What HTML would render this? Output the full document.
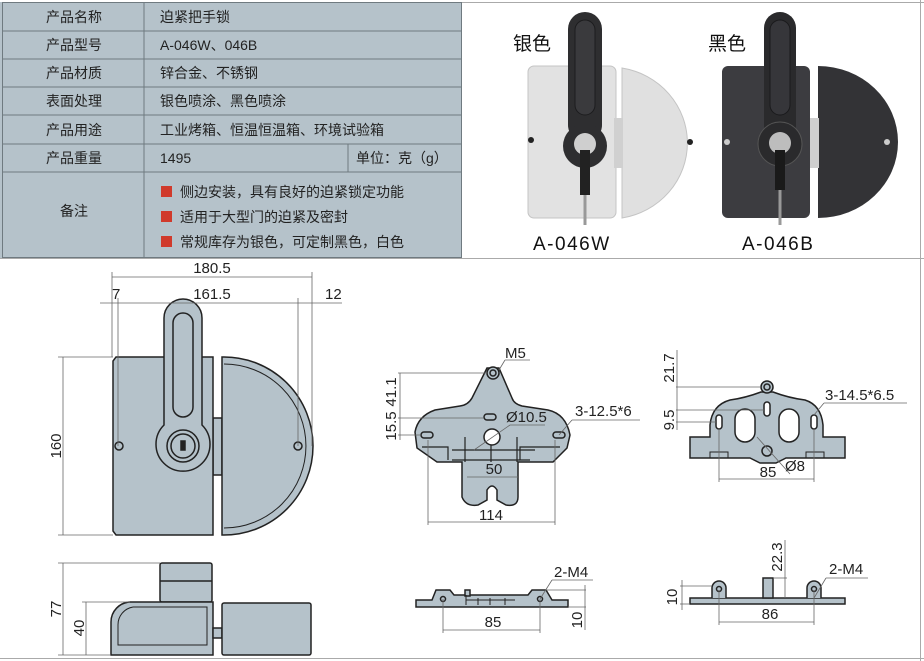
<!DOCTYPE html>
<html><head><meta charset="utf-8"><style>
body{margin:0;background:#fff;width:924px;height:661px;overflow:hidden;font-family:"Liberation Sans","Noto Sans CJK SC",sans-serif}
svg{position:absolute;left:0;top:0}
</style></head><body>
<svg width="924" height="661" viewBox="0 0 924 661" font-family="'Liberation Sans','Noto Sans CJK SC',sans-serif">
<rect x="0" y="2" width="462" height="256" fill="#b5c2ca"/>
<g stroke="#6f7a80" stroke-width="1" fill="none">
<rect x="2.5" y="2.5" width="459" height="255"/>
<line x1="2" y1="31" x2="462" y2="31"/><line x1="2" y1="59" x2="462" y2="59"/>
<line x1="2" y1="87" x2="462" y2="87"/><line x1="2" y1="115" x2="462" y2="115"/>
<line x1="2" y1="144" x2="462" y2="144"/><line x1="2" y1="172" x2="462" y2="172"/>
<line x1="144" y1="2" x2="144" y2="258"/><line x1="348" y1="144" x2="348" y2="172"/>
</g>
<g font-size="14" fill="#222">
<text x="74" y="22" text-anchor="middle">产品名称</text>
<text x="74" y="50" text-anchor="middle">产品型号</text>
<text x="74" y="78" text-anchor="middle">产品材质</text>
<text x="74" y="106" text-anchor="middle">表面处理</text>
<text x="74" y="135" text-anchor="middle">产品用途</text>
<text x="74" y="163" text-anchor="middle">产品重量</text>
<text x="74" y="216" text-anchor="middle">备注</text>
<text x="160" y="22">迫紧把手锁</text>
<text x="160" y="50">A-046W、046B</text>
<text x="160" y="78">锌合金、不锈钢</text>
<text x="160" y="106">银色喷涂、黑色喷涂</text>
<text x="160" y="135">工业烤箱、恒温恒温箱、环境试验箱</text>
<text x="160" y="163">1495</text>
<text x="356" y="163">单位：克（g）</text>
<text x="180" y="197">侧边安装，具有良好的迫紧锁定功能</text>
<text x="180" y="222">适用于大型门的迫紧及密封</text>
<text x="180" y="247">常规库存为银色，可定制黑色，白色</text>
</g>
<g fill="#d03a2c"><rect x="161" y="186" width="11" height="11"/><rect x="161" y="211" width="11" height="11"/><rect x="161" y="236" width="11" height="11"/></g>
<g stroke="#aaa" fill="none"><line x1="0" y1="258.5" x2="924" y2="258.5"/><line x1="920.5" y1="0" x2="920.5" y2="661"/><line x1="0" y1="658.5" x2="924" y2="658.5"/><line x1="462" y1="2.5" x2="924" y2="2.5"/></g>
<g>
<text x="513" y="50" font-size="19" fill="#111">银色</text>
<text x="708" y="50" font-size="19" fill="#111">黑色</text>
<text x="533" y="250" font-size="19" fill="#111" letter-spacing="1.5">A-046W</text>
<text x="742" y="250" font-size="19" fill="#111" letter-spacing="1.5">A-046B</text>
<rect x="528" y="66" width="88" height="152" rx="6" fill="#e2e2e2" stroke="#c4c4c4"/>
<path d="M622 68 A78 76 0 0 1 622 218 Z" fill="#e0e0e0" stroke="#c4c4c4"/>
<rect x="614" y="118" width="9" height="50" fill="#d0d0d0"/>
<rect x="568" y="12" width="34" height="130" rx="17" fill="#2e2e30"/>
<rect x="575" y="20" width="20" height="95" rx="10" fill="#3a3a3d" stroke="#1c1c1e"/>
<circle cx="585" cy="146" r="22" fill="#2e2e30"/>
<circle cx="585" cy="144" r="11" fill="#cfcfcf"/>
<rect x="580" y="150" width="10" height="45" fill="#222"/>
<line x1="585" y1="195" x2="585" y2="225" stroke="#999" stroke-width="3"/>
<circle cx="531" cy="140" r="3" fill="#222"/><circle cx="690" cy="142" r="3" fill="#222"/>
<rect x="722" y="66" width="88" height="152" rx="6" fill="#3c3c40"/>
<path d="M818 66 A80 76 0 0 1 818 218 Z" fill="#333336"/>
<rect x="810" y="118" width="9" height="50" fill="#cfcfcf"/>
<rect x="764" y="12" width="32" height="130" rx="16" fill="#2a2a2c"/>
<rect x="770" y="20" width="20" height="95" rx="10" fill="#36363a" stroke="#1a1a1c"/>
<circle cx="780" cy="144" r="22" fill="#2a2a2c" stroke="#555"/>
<circle cx="780" cy="143" r="11" fill="#bdbdbd"/>
<rect x="775" y="150" width="10" height="40" fill="#1a1a1a"/>
<line x1="780" y1="190" x2="780" y2="225" stroke="#999" stroke-width="3"/>
<circle cx="727" cy="142" r="3" fill="#ccc"/><circle cx="887" cy="142" r="3" fill="#ccc"/>
</g>
<g fill="#b5c2ca" stroke="#222" stroke-width="1.5">
<rect x="213" y="418" width="9" height="57"/>
<path d="M116 357 H213 V535 H116 L113 531 V361 Z"/>
<path d="M222 357 H224 A89 89 0 0 1 224 535 H222 Z"/>
<path d="M224 364 A82 82 0 0 1 224 528" fill="none" stroke-width="1"/>
<path d="M164 318 A19 19 0 0 1 202 318 V425 A27 27 0 1 1 164 425 Z"/>
<rect x="173" y="313" width="20" height="104" rx="10"/>
<circle cx="183" cy="446" r="16"/><circle cx="183" cy="446" r="12"/>
<rect x="181" y="441" width="4" height="9" fill="#222"/>
<circle cx="119" cy="446" r="4"/><circle cx="298" cy="446" r="4"/>
<rect x="160" y="563" width="52" height="39" rx="2"/>
<line x1="160" y1="581" x2="212" y2="581"/>
<path d="M130 602 H213 V655 H111 V622 A20 20 0 0 1 130 602 Z"/>
<path d="M133 607 H207 V645 H118 V625 A18 18 0 0 1 133 607" fill="none" stroke-width="1"/>
<rect x="213" y="628" width="9" height="10"/>
<rect x="222" y="603" width="89" height="52" rx="2"/>
<path d="M487 368 L472 398 Q468 405 460 406 L435 410 Q418 416 415 432 L417 448 L437 462 H462 V497 Q466 507 478 505 L487 500 V490 Q492 482 497 490 V500 L506 505 Q518 507 518 497 V462 H553 L567 448 L570 435 Q566 414 548 410 L522 406 Q514 404 512 398 L499 368 Z"/>
<circle cx="493" cy="373" r="6"/><circle cx="493" cy="373" r="3"/>
<rect x="484" y="414" width="12" height="6" rx="3"/>
<rect x="421" y="432" width="12" height="6" rx="3"/><rect x="553" y="432" width="12" height="6" rx="3"/>
<circle cx="492" cy="437" r="8" fill="#fff"/>
<g fill="none" stroke-width="1.2"><path d="M422 447 H448 V460 M520 460 V447 H560 M452 450 H535 M452 460 H530"/>
<line x1="465" y1="437" x2="465" y2="462"/><line x1="517" y1="437" x2="517" y2="462"/><line x1="491" y1="445" x2="491" y2="462"/></g>
<path d="M761 392 Q745 398 730 400 Q712 405 710 425 V437 H690 V458 H750 L760 463 H776 L786 458 H845 V437 H823 V425 Q821 405 805 400 Q789 398 773 392 Z"/>
<circle cx="767" cy="387" r="6"/><circle cx="767" cy="387" r="3"/>
<rect x="735" y="409" width="20" height="33" rx="10" fill="#fff"/><rect x="779" y="409" width="20" height="33" rx="10" fill="#fff"/>
<rect x="764" y="402" width="6" height="14" rx="3" fill="#fff"/>
<rect x="716" y="415" width="6" height="14" rx="3" fill="#fff"/><rect x="811" y="415" width="6" height="14" rx="3" fill="#fff"/>
<circle cx="767" cy="451" r="5"/>
<rect x="710" y="452" width="18" height="6" fill="none" stroke-width="1"/><rect x="806" y="452" width="18" height="6" fill="none" stroke-width="1"/>
<path d="M416 600 H432 L436 590 H450 L454 595 H528 L532 590 H546 L552 600 H568 V607 H416 Z"/>
<rect x="465" y="590" width="5" height="6"/>
<circle cx="443" cy="599" r="2.5"/><circle cx="540" cy="599" r="2.5"/>
<path d="M466 595 V605 M478 598 V605 M490 598 V605 M505 598 V605 M466 600 H515" fill="none" stroke-width="1"/>
<rect x="690" y="598" width="155" height="6"/>
<path d="M712 598 V588 A7 7 0 0 1 726 588 V598"/>
<path d="M807 598 V588 A7 7 0 0 1 821 588 V598"/>
<circle cx="719" cy="589" r="2.5"/><circle cx="814" cy="589" r="2.5"/>
<rect x="763" y="578" width="10" height="20"/>
</g>
<g stroke="#666" stroke-width="0.8" fill="none">
<line x1="112" y1="277" x2="312" y2="277"/><line x1="100" y1="303" x2="342" y2="303"/>
<line x1="112" y1="272" x2="112" y2="357"/><line x1="312" y1="272" x2="312" y2="446"/>
<line x1="118" y1="298" x2="118" y2="446"/><line x1="298" y1="298" x2="298" y2="446"/>
<line x1="63" y1="357" x2="63" y2="535"/><line x1="58" y1="357" x2="113" y2="357"/><line x1="58" y1="535" x2="113" y2="535"/>
<line x1="63" y1="563" x2="63" y2="655"/><line x1="58" y1="563" x2="160" y2="563"/><line x1="58" y1="655" x2="111" y2="655"/>
<line x1="86" y1="602" x2="86" y2="655"/><line x1="82" y1="602" x2="130" y2="602"/>
<line x1="398" y1="373" x2="487" y2="373"/><line x1="398" y1="418" x2="484" y2="418"/><line x1="398" y1="435" x2="421" y2="435"/>
<line x1="400" y1="373" x2="400" y2="440"/>
<line x1="428" y1="440" x2="428" y2="525"/><line x1="555" y1="440" x2="555" y2="525"/><line x1="428" y1="522" x2="555" y2="522"/>
<line x1="467" y1="477" x2="518" y2="477"/>
<line x1="474" y1="450" x2="510" y2="425"/><line x1="510" y1="425" x2="545" y2="425"/>
<line x1="559" y1="435" x2="572" y2="420"/><line x1="572" y1="420" x2="640" y2="420"/>
<line x1="499" y1="370" x2="505" y2="360"/><line x1="505" y1="360" x2="530" y2="360"/>
<line x1="676" y1="387" x2="761" y2="387"/><line x1="676" y1="410" x2="764" y2="410"/><line x1="676" y1="422" x2="716" y2="422"/>
<line x1="677" y1="350" x2="677" y2="430"/>
<line x1="719" y1="429" x2="719" y2="482"/><line x1="814" y1="429" x2="814" y2="482"/><line x1="719" y1="479" x2="814" y2="479"/>
<line x1="757" y1="437" x2="790" y2="474"/>
<line x1="814" y1="415" x2="824" y2="403"/><line x1="824" y1="403" x2="907" y2="403"/>
<line x1="443" y1="599" x2="443" y2="633"/><line x1="540" y1="599" x2="540" y2="633"/><line x1="443" y1="630" x2="540" y2="630"/>
<line x1="540" y1="599" x2="552" y2="580"/><line x1="552" y1="580" x2="593" y2="580"/>
<line x1="546" y1="590" x2="586" y2="590"/><line x1="568" y1="607" x2="586" y2="607"/><line x1="585" y1="585" x2="585" y2="630"/>
<line x1="719" y1="590" x2="719" y2="625"/><line x1="814" y1="590" x2="814" y2="625"/><line x1="719" y1="622" x2="814" y2="622"/>
<line x1="814" y1="598" x2="826" y2="578"/><line x1="826" y1="578" x2="868" y2="578"/>
<line x1="680" y1="586" x2="712" y2="586"/><line x1="680" y1="604" x2="690" y2="604"/><line x1="682" y1="580" x2="682" y2="610"/>
<line x1="773" y1="578" x2="787" y2="578"/><line x1="785" y1="540" x2="785" y2="598"/>
</g>
<g font-size="15" fill="#222">
<text x="212" y="273" text-anchor="middle">180.5</text>
<text x="212" y="299" text-anchor="middle">161.5</text>
<text x="112" y="299">7</text>
<text x="325" y="299">12</text>
<text transform="translate(61,446) rotate(-90)" text-anchor="middle">160</text>
<text transform="translate(61,609) rotate(-90)" text-anchor="middle">77</text>
<text transform="translate(84,628) rotate(-90)" text-anchor="middle">40</text>
<text x="505" y="358">M5</text>
<text transform="translate(396,392) rotate(-90)" text-anchor="middle">41.1</text>
<text transform="translate(396,426) rotate(-90)" text-anchor="middle">15.5</text>
<text x="506" y="422">Ø10.5</text>
<text x="575" y="416">3-12.5*6</text>
<text x="494" y="474" text-anchor="middle">50</text>
<text x="491" y="520" text-anchor="middle">114</text>
<text transform="translate(674,368) rotate(-90)" text-anchor="middle">21.7</text>
<text transform="translate(674,420) rotate(-90)" text-anchor="middle">9.5</text>
<text x="825" y="400">3-14.5*6.5</text>
<text x="768" y="477" text-anchor="middle">85</text>
<text x="785" y="471">Ø8</text>
<text x="554" y="577">2-M4</text>
<text x="493" y="627" text-anchor="middle">85</text>
<text transform="translate(582,620) rotate(-90)" text-anchor="middle">10</text>
<text x="829" y="574">2-M4</text>
<text x="770" y="619" text-anchor="middle">86</text>
<text transform="translate(677,597) rotate(-90)" text-anchor="middle">10</text>
<text transform="translate(782,557) rotate(-90)" text-anchor="middle">22.3</text>
</g>
</svg>
</body></html>
